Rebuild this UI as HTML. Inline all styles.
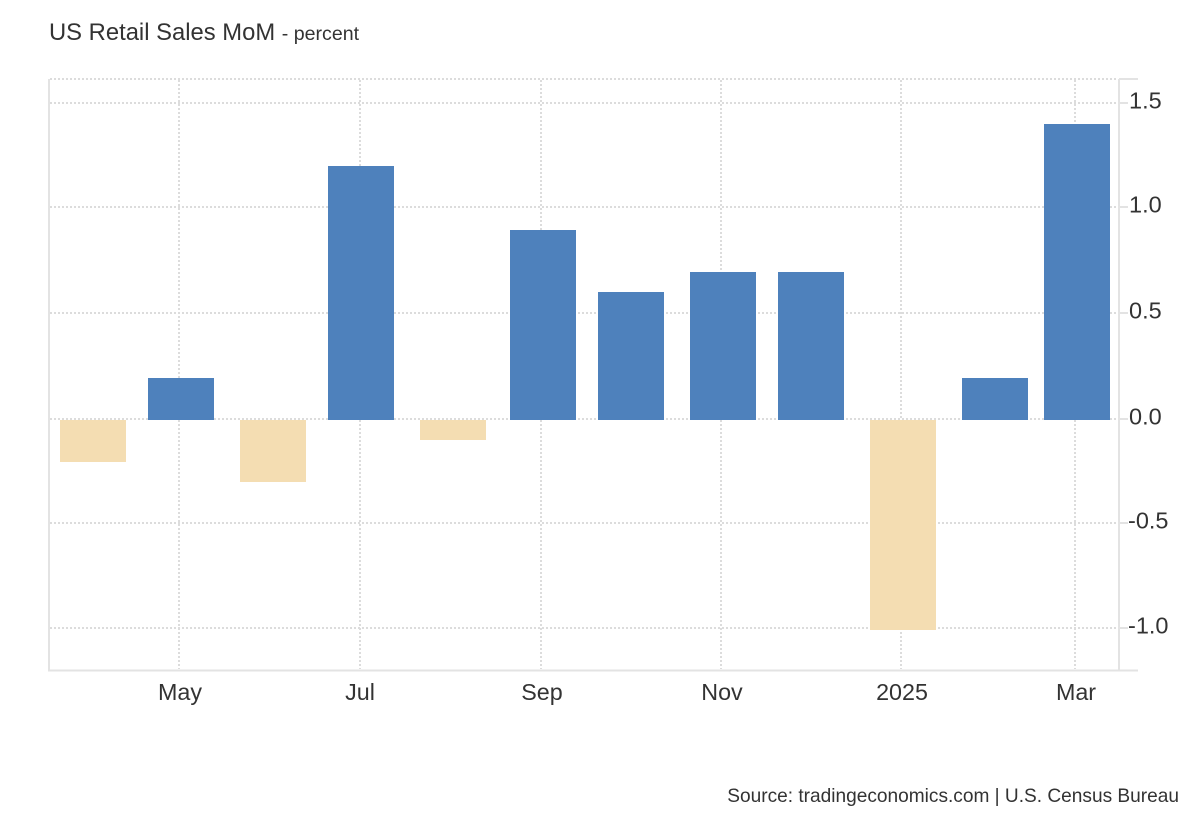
<!DOCTYPE html>
<html>
<head>
<meta charset="utf-8">
<style>
  html, body { margin: 0; padding: 0; background: #ffffff; }
  body { width: 1200px; height: 820px; overflow: hidden; }
  svg { display: block; font-family: "Liberation Sans", Arial, sans-serif; }
</style>
</head>
<body>
<svg width="1200" height="820" viewBox="0 0 1200 820" xmlns="http://www.w3.org/2000/svg">
  <rect x="0" y="0" width="1200" height="820" fill="#ffffff"/>

  <!-- Title -->
  <text x="49" y="40" font-size="23.8" fill="#333333">US Retail Sales MoM <tspan font-size="19.6">- percent</tspan></text>

  <!-- horizontal gridlines (dotted) -->
  <g stroke="#dcdcdc" stroke-width="2" stroke-dasharray="2,2" fill="none">
    <line x1="50" y1="79" x2="1118" y2="79"/>
    <line x1="50" y1="103" x2="1118" y2="103"/>
    <line x1="50" y1="207" x2="1118" y2="207"/>
    <line x1="50" y1="313" x2="1118" y2="313"/>
    <line x1="50" y1="419" x2="1118" y2="419"/>
    <line x1="50" y1="523" x2="1118" y2="523"/>
    <line x1="50" y1="628" x2="1118" y2="628"/>
  </g>
  <!-- vertical gridlines (dotted) -->
  <g stroke="#dcdcdc" stroke-width="2" stroke-dasharray="2,2" fill="none">
    <line x1="179" y1="80" x2="179" y2="669"/>
    <line x1="360" y1="80" x2="360" y2="669"/>
    <line x1="541" y1="80" x2="541" y2="669"/>
    <line x1="721" y1="80" x2="721" y2="669"/>
    <line x1="901" y1="80" x2="901" y2="669"/>
    <line x1="1075" y1="80" x2="1075" y2="669"/>
  </g>

  <!-- axes -->
  <g stroke="#e3e3e3" stroke-width="2" fill="none">
    <line x1="49" y1="79" x2="49" y2="671"/>
    <line x1="48" y1="670.5" x2="1138" y2="670.5"/>
    <line x1="1119" y1="79" x2="1119" y2="671"/>
    <line x1="1119" y1="79" x2="1138" y2="79"/>
    <line x1="1119" y1="103" x2="1128" y2="103"/>
    <line x1="1119" y1="207" x2="1128" y2="207"/>
    <line x1="1119" y1="313" x2="1128" y2="313"/>
    <line x1="1119" y1="419" x2="1128" y2="419"/>
    <line x1="1119" y1="523" x2="1128" y2="523"/>
    <line x1="1119" y1="628" x2="1128" y2="628"/>
  </g>

  <!-- bars -->
  <g>
    <rect x="60"   y="420" width="66" height="42"  fill="#f4ddb2"/>
    <rect x="148"  y="378" width="66" height="42"  fill="#4e81bc"/>
    <rect x="240"  y="420" width="66" height="62"  fill="#f4ddb2"/>
    <rect x="328"  y="166" width="66" height="254" fill="#4e81bc"/>
    <rect x="420"  y="420" width="66" height="20"  fill="#f4ddb2"/>
    <rect x="510"  y="230" width="66" height="190" fill="#4e81bc"/>
    <rect x="598"  y="292" width="66" height="128" fill="#4e81bc"/>
    <rect x="690"  y="272" width="66" height="148" fill="#4e81bc"/>
    <rect x="778"  y="272" width="66" height="148" fill="#4e81bc"/>
    <rect x="870"  y="420" width="66" height="210" fill="#f4ddb2"/>
    <rect x="962"  y="378" width="66" height="42"  fill="#4e81bc"/>
    <rect x="1044" y="124" width="66" height="296" fill="#4e81bc"/>
  </g>

  <!-- y labels -->
  <g font-size="23.5" fill="#333333">
    <text x="1129" y="108.5">1.5</text>
    <text x="1129" y="212.5">1.0</text>
    <text x="1129" y="318.5">0.5</text>
    <text x="1129" y="424.5">0.0</text>
    <text x="1128" y="528.5">-0.5</text>
    <text x="1128" y="633.5">-1.0</text>
  </g>

  <!-- x labels -->
  <g font-size="23.3" fill="#333333" text-anchor="middle">
    <text x="180" y="700">May</text>
    <text x="360" y="700">Jul</text>
    <text x="542" y="700">Sep</text>
    <text x="722" y="700">Nov</text>
    <text x="902" y="700">2025</text>
    <text x="1076" y="700">Mar</text>
  </g>

  <!-- source -->
  <text x="1179" y="802" font-size="19.1" fill="#333333" text-anchor="end">Source: tradingeconomics.com | U.S. Census Bureau</text>
</svg>
</body>
</html>
